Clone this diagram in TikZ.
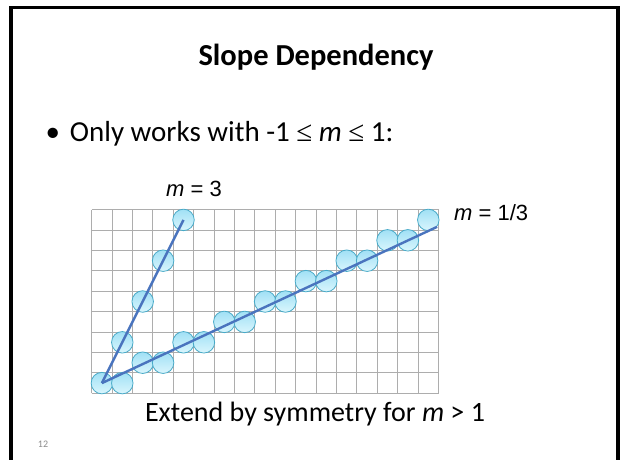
\documentclass[tikz,border=0pt]{standalone}
\usepackage{fontspec}
\setmainfont{Carlito}
\newfontfamily\labelfont{Liberation Sans}
\newfontfamily\symfont{Liberation Serif}
\usetikzlibrary{positioning}
\definecolor{pixtop}{RGB}{160,224,245}
\definecolor{pixbottom}{RGB}{218,246,253}
\definecolor{pixedge}{RGB}{72,170,200}
\definecolor{lineblue}{RGB}{74,116,190}
\newcommand{\lesym}{{\symfont ≤}}

\begin{document}
\begin{tikzpicture}[x=1pt, y=-1pt,
  gridline/.style={draw=black!32, line width=0.9pt},
  pix/.style={circle, draw=pixedge, line width=0.8pt, top color=pixtop, bottom color=pixbottom, minimum size=21.5pt, inner sep=0pt},
  slopeline/.style={draw=lineblue, line width=2.4pt},
  mlabel/.style={font=\labelfont\fontsize{22}{26}\selectfont, inner sep=0pt}]
  \useasboundingbox (0,0) rectangle (626,459);
  \fill[white] (0,0) rectangle (626,459);
  \draw[line width=3.5pt] (11,462) -- (11,7.5) -- (618,7.5) -- (618,462);

  \node[anchor=base, font=\bfseries\fontsize{30.5}{36}\selectfont] (title) at (316,65) {Slope Dependency};
  \node[anchor=base west, font=\fontsize{29}{34}\selectfont] (bullet) at (42,141) {\textbullet\hspace{10pt}Only works with -1 \lesym{} \textit{m} \lesym{} 1:};

  \begin{scope}[shift={(91.7,393.3)}, x=20.4pt, y=20.4pt]
    \foreach \x in {0,...,17}
      \draw[gridline] (\x,0) -- (\x,9);
    \foreach \y in {0,...,9}
      \draw[gridline] (0,\y) -- (17,\y);
    \foreach \i in {0,...,16} {
      \pgfmathtruncatemacro\j{\i/2}
      \node[pix] (a\i) at (\i+0.5,\j+0.5) {};
    }
    \foreach \i in {1,...,4} {
      \node[pix] (b\i) at (\i+0.5,2*\i+0.5) {};
    }
    \coordinate (lineend) at (16.93,8.16);
    \draw[slopeline] (a0.center) -- (b4.center);
    \draw[slopeline] (a0.center) -- (lineend);
  \end{scope}

  \node[mlabel, anchor=base] (mthree) at (194,196) {\textit{m} = 3};
  \node[mlabel, anchor=base west] (mthird) at (454,220) {\textit{m} = 1/3};

  \node[anchor=base, font=\fontsize{28}{33}\selectfont] (note) at (315,421) {Extend by symmetry for \textit{m} > 1};
  \node[anchor=base, font=\fontsize{10}{12}\selectfont, text=black!45] (page) at (43,447) {12};
\end{tikzpicture}
\end{document}
